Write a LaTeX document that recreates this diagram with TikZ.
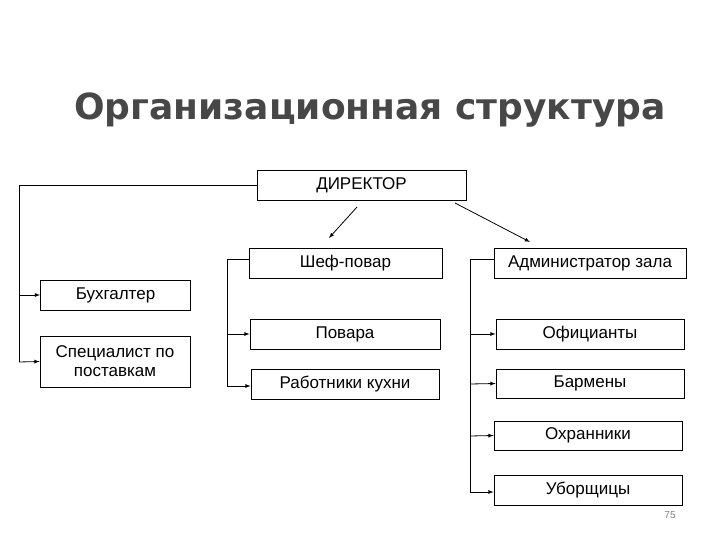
\documentclass[tikz,border=0pt]{standalone}
\usepackage{fontspec}
\setmainfont{Liberation Sans}
\newfontfamily\titlefont{DejaVu Sans}
\begin{document}
\begin{tikzpicture}[x=1pt,y=-1pt,
  box/.style={draw,line width=0.8pt,minimum height=30pt,inner sep=0pt,font=\fontsize{17}{19}\selectfont,align=center},
  con/.style={line width=0.8pt},
  arr/.style={line width=0.8pt,-latex}]
\useasboundingbox (0,0) rectangle (720,540);
\node[font=\titlefont\bfseries\fontsize{36}{40}\selectfont,text=black!72] (t) at (370,110) {Организационная структура};
\node[box,minimum width=209pt] (dir) at (361.5,185) {ДИРЕКТОР};
\node[box,minimum width=193pt] (chef) at (345.5,263) {Шеф-повар};
\node[box,minimum width=192pt] (adm) at (590,263) {Администратор зала};
\node[box,minimum width=150pt] (buh) at (115.5,295) {Бухгалтер};
\node[box,minimum width=150pt,minimum height=51pt] (spec) at (115,361.5) {Специалист по\\поставкам};
\node[box,minimum width=190pt] (pov) at (345,334) {Повара};
\node[box,minimum width=188pt] (rab) at (345,384) {Работники кухни};
\node[box,minimum width=188pt] (ofi) at (590,334) {Официанты};
\node[box,minimum width=188pt,minimum height=29pt] (bar) at (590,383.5) {Бармены};
\node[box,minimum width=188pt,minimum height=29pt] (ohr) at (588,435.5) {Охранники};
\node[box,minimum width=188pt] (ubo) at (588,490) {Уборщицы};
\node[font=\fontsize{10}{11}\selectfont,text=black!50] (pg) at (670,515) {75};
% left
\coordinate (l1) at (19,185);
\draw[con] (dir.west) -- (l1) -- (19,362);
\draw[arr] (19,295) -- (buh.west);
\draw[arr] (19,362) -- (spec.west);
% chef
\draw[con] ([yshift=4pt]chef.west) -- (227,259) -- (227,386);
\draw[arr] (227,334) -- (pov.west);
\draw[arr] (227,386) -- ([yshift=-2pt]rab.west);
% admin
\draw[con] ([yshift=4pt]adm.west) -- (470,259) -- (470,492);
\draw[arr] (470,334) -- (ofi.west);
\draw[arr] (470,384) -- (bar.west);
\draw[arr] (470,436) -- (ohr.west);
\draw[arr] (470,492) -- ([yshift=-2pt]ubo.west);
% director arrows
\draw[arr] (357,207) -- (329,238);
\draw[arr] (455,203) -- (530,242);
\end{tikzpicture}
\end{document}
